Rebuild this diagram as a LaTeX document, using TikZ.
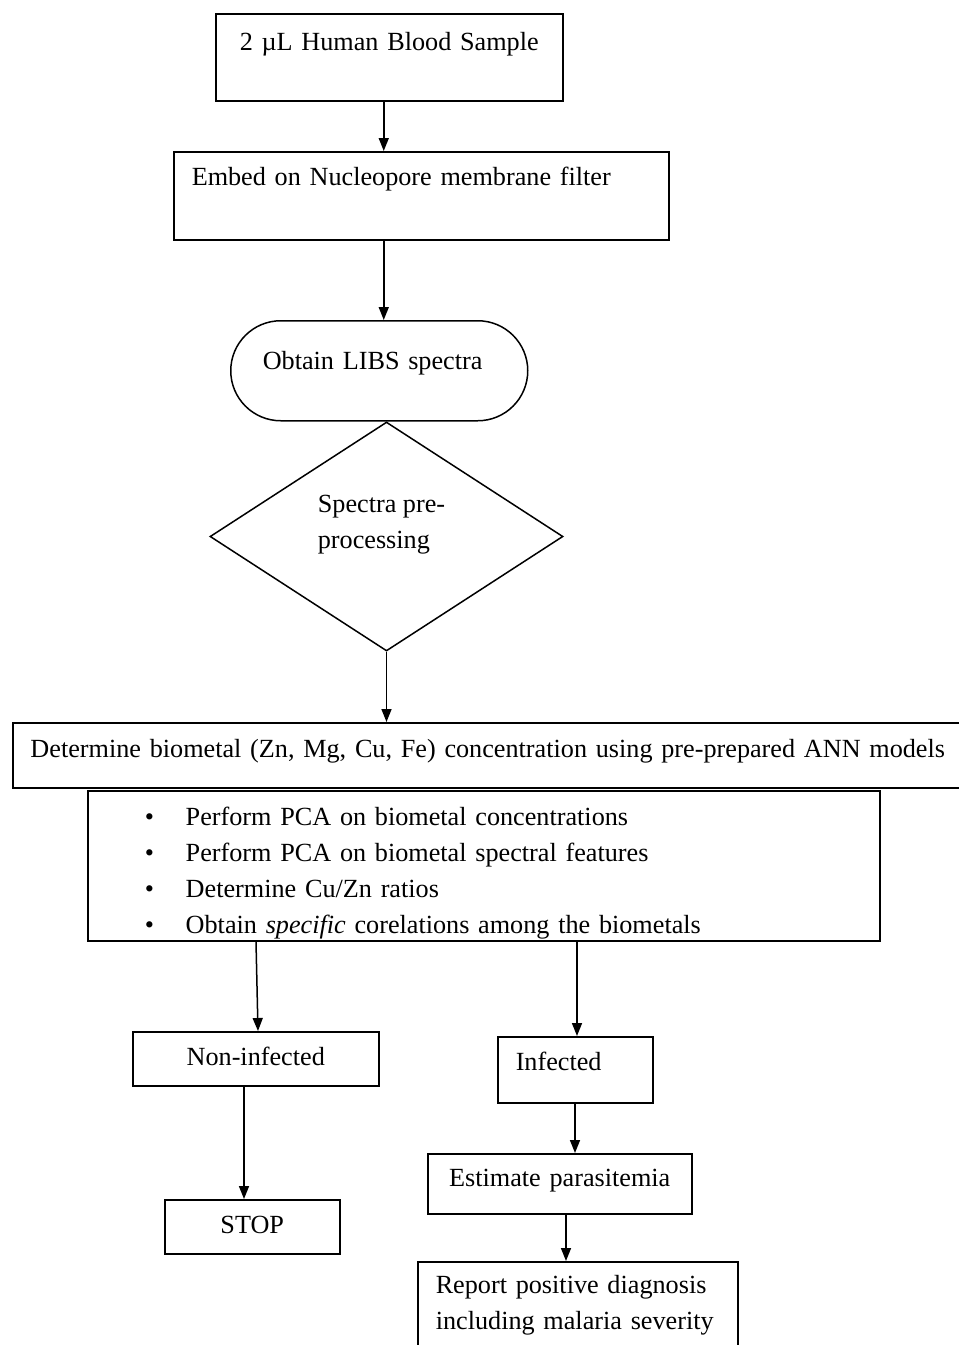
\documentclass[tikz,border=0pt]{standalone}
\usepackage{fontspec}
\setmainfont{Liberation Serif}
\usepackage{tikz}
\usetikzlibrary{arrows.meta, shapes.geometric}

\begin{document}
\begin{tikzpicture}[
        x=1pt, y=-1pt,
        >={Triangle[length=13pt, width=10pt]},
        procbox/.style={draw, line width=1.5pt, anchor=north west, inner ysep=0pt, font=\fontsize{26.2}{36}\selectfont},
        termbox/.style={procbox, rounded corners=50pt},
        decision/.style={draw, diamond, line width=1.5pt, aspect=1.54, inner sep=0pt, minimum width=353pt, minimum height=229pt, font=\fontsize{26.2}{36}\selectfont},
        flow/.style={->, line width=1.5pt}
    ]
        \useasboundingbox (0,0) rectangle (959,1345);

        \node[procbox, inner xsep=0pt, text width=347pt, align=center, text height=37pt, text depth=50pt] (blood) at (215,13) {2 µL Human Blood Sample};

        \node[procbox, inner xsep=18pt, text width=459pt, align=left, text height=34pt, text depth=54pt] (embed) at (173,151) {Embed on Nucleopore membrane filter};

        \node[termbox, inner xsep=32pt, text width=233pt, align=left, text height=49pt, text depth=51pt] (libs) at (230,320) {Obtain LIBS spectra};

        \node[decision, label={[align=left, xshift=-5pt, yshift=12pt, font=\fontsize{26.2}{36}\selectfont]center:Spectra pre-\\processing}] (prep) at (386.5,536.5) {};

        \node[procbox, inner xsep=0pt, text width=950pt, align=center, text height=35pt, text depth=30pt] (determine) at (12,722) {Determine biometal (Zn, Mg, Cu, Fe) concentration using pre-prepared ANN models};

        \node[procbox, inner xsep=57pt, text width=678pt, align=left, minimum height=150pt] (bullets) at (87,790) {
            \rule{0pt}{34pt}\makebox[41pt][l]{\textbullet}Perform PCA on biometal concentrations\\
            \makebox[41pt][l]{\textbullet}Perform PCA on biometal spectral features\\
            \makebox[41pt][l]{\textbullet}Determine Cu/Zn ratios\\
            \makebox[41pt][l]{\textbullet}Obtain \textit{specific} corelations among the biometals};

        \node[procbox, inner xsep=0pt, text width=246pt, align=center, text height=34pt, text depth=20pt] (noninf) at (132,1031) {Non-infected};

        \node[procbox, inner xsep=18pt, text width=119pt, align=left, text height=34pt, text depth=32pt] (infected) at (497,1036) {Infected};

        \node[procbox, inner xsep=0pt, text width=175pt, align=center, text height=34pt, text depth=20pt] (stop) at (164,1199) {STOP};

        \node[procbox, inner xsep=0pt, text width=264pt, align=center, text height=33pt, text depth=27pt] (estimate) at (427,1153) {Estimate parasitemia};

        \node[procbox, inner xsep=18pt, text width=284pt, minimum height=87pt, align=left] (report) at (417,1261) {Report positive diagnosis\\including malaria severity};

        \draw[flow] ([xshift=-5.5pt]blood.south) -- ([xshift=-5.5pt]blood.south |- embed.north);
        \draw[flow] ([xshift=-37.5pt]embed.south) -- ([xshift=-37.5pt]embed.south |- libs.north);
        \draw[flow] (prep.south) -- (prep.south |- determine.north);
        \draw[flow] ([xshift=169pt]bullets.south west) -- ([xshift=126pt]noninf.north west);
        \draw[flow] ([xshift=490pt]bullets.south west) -- ([xshift=490pt]bullets.south west |- infected.north);
        \draw[flow] ([xshift=112pt]noninf.south west) -- ([xshift=112pt]noninf.south west |- stop.north);
        \draw[flow] ([xshift=78pt]infected.south west) -- ([xshift=78pt]infected.south west |- estimate.north);
        \draw[flow] ([xshift=139pt]estimate.south west) -- ([xshift=139pt]estimate.south west |- report.north);
    \end{tikzpicture}
\end{document}
